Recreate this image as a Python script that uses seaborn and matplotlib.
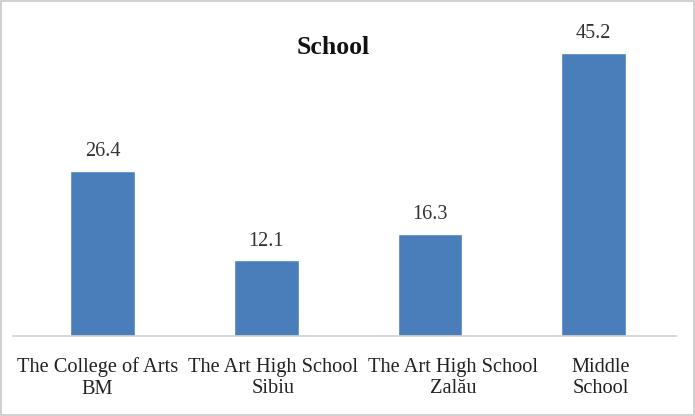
import matplotlib
matplotlib.use("Agg")
import matplotlib.pyplot as plt
import matplotlib.transforms as mtransforms
import seaborn as sns
import pandas as pd

categories = ["The College of Arts\nBM", "The Art High School\nSibiu", "The Art High School\nZalău", "Middle\nSchool"]
values = [26.4, 12.1, 16.3, 45.2]
title = "School"

sns.set_theme(style="white")
plt.rcParams['font.family'] = ['Liberation Serif', 'DejaVu Serif']

df = pd.DataFrame({"cat": categories, "val": values})

fig = plt.figure(figsize=(6.95, 4.16), dpi=100)
ax = fig.add_axes([13 / 695, 80 / 416, 663 / 695, 0.75])
sns.barplot(data=df, x="cat", y="val", color="#4a7ebb", width=0.395, ax=ax, saturation=1)
ax.set_xlim(-0.547, 3.503)
ax.set_ylim(0, 0.75 * 416 / 6.26)
ax.set_xlabel("")
ax.set_ylabel("")
ax.set_yticks([])
for s in ["top", "right", "left"]:
    ax.spines[s].set_visible(False)
ax.spines["bottom"].set_color("#d0d0d0")
ax.spines["bottom"].set_linewidth(1.2)
ax.tick_params(axis="x", length=0, labelsize=14.7, colors="#222222", pad=15.5)
# horizontal nudges of the category labels (pixels), as in the reference
label_shift_px = [-5, 7, 23, 7]
for lbl, dx in zip(ax.get_xticklabels(), label_shift_px):
    lbl.set_linespacing(1.2)
    lbl.set_transform(lbl.get_transform() + mtransforms.ScaledTranslation(dx / 100, 0, fig.dpi_scale_trans))
for c in ax.containers:
    ax.bar_label(c, labels=[f"{v:.1f}" for v in values], padding=7, fontsize=14.5, color="#333333")
fig.text(0.48, 0.885, title, ha="center", va="center", fontsize=18.5, fontweight="bold", color="#111111")
fig.patches.append(plt.Rectangle((0.002, 0.002), 0.996, 0.996, transform=fig.transFigure,
                                 fill=False, edgecolor="#c8c8c8", linewidth=1.2))
fig.savefig("out.png", dpi=100)
